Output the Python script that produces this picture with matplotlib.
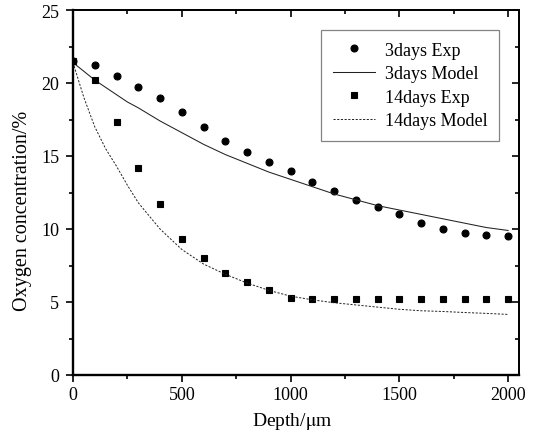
import numpy as np
import matplotlib
matplotlib.use("Agg")
import matplotlib.pyplot as plt
from matplotlib.ticker import MultipleLocator, NullFormatter

plt.rcParams['font.family'] = ['Liberation Serif', 'DejaVu Serif']
plt.rcParams['mathtext.fontset'] = 'stix'

# Measured points (every 100 um)
depth_exp = [0, 100, 200, 300, 400, 500, 600, 700, 800, 900, 1000,
             1100, 1200, 1300, 1400, 1500, 1600, 1700, 1800, 1900, 2000]
exp_3days = [21.5, 21.2, 20.5, 19.7, 19.0, 18.0, 17.0, 16.0, 15.3, 14.6, 14.0,
             13.2, 12.6, 12.0, 11.5, 11.0, 10.4, 10.0, 9.7, 9.6, 9.5]
exp_14days = [21.5, 20.2, 17.3, 14.2, 11.7, 9.3, 8.0, 7.0, 6.4, 5.8, 5.3,
              5.2, 5.2, 5.2, 5.2, 5.2, 5.2, 5.2, 5.2, 5.2, 5.2]

# Model curves
depth_model = [0, 50, 100, 150, 200, 250, 300, 400, 500, 600, 700, 800, 900, 1000,
               1100, 1200, 1300, 1400, 1500, 1600, 1700, 1800, 1900, 2000]
model_3days = [21.4, 20.8, 20.2, 19.7, 19.2, 18.7, 18.3, 17.4, 16.6, 15.8, 15.1, 14.5, 13.9, 13.4,
               12.9, 12.4, 12.0, 11.6, 11.3, 11.0, 10.7, 10.4, 10.1, 9.9]
model_14days = [21.4, 19.0, 17.0, 15.5, 14.3, 13.0, 11.8, 10.0, 8.6, 7.6, 6.9, 6.3, 5.8, 5.4,
                5.15, 4.95, 4.8, 4.65, 4.5, 4.4, 4.35, 4.28, 4.22, 4.15]

fig = plt.figure(figsize=(5.45, 4.35), dpi=100)
# axes box in pixels: left 73, right 519, top 11, bottom 376
ax = fig.add_axes([73 / 545, 59 / 435, 446 / 545, 365 / 435])

ax.plot(depth_exp, exp_3days, 'o', color='black', markersize=5.0, mew=0.8, label='3days Exp')
ax.plot(depth_model, model_3days, '-', color='#222222', linewidth=0.75, label='3days Model')
ax.plot(depth_exp, exp_14days, 's', color='black', markersize=4.8, mew=0.8, label='14days Exp')
ax.plot(depth_model, model_14days, '--', color='#222222', linewidth=0.7, dashes=(2.2, 1.6),
        label='14days Model')

ax.set_xlim(0, 2050)
ax.set_ylim(0, 25)
ax.xaxis.set_major_locator(MultipleLocator(500))
ax.xaxis.set_minor_locator(MultipleLocator(250))
ax.yaxis.set_major_locator(MultipleLocator(5))
ax.yaxis.set_minor_locator(MultipleLocator(2.5))
ax.tick_params(which='both', direction='out', labelsize=13)
ax.tick_params(which='major', length=5, width=1.2)
ax.tick_params(which='minor', length=3, width=1.2)
ax.tick_params(axis='x', pad=3)
ax.tick_params(axis='y', pad=5)
ax.spines['left'].set_linewidth(1.7)
ax.spines['bottom'].set_linewidth(1.7)
ax.spines['right'].set_linewidth(1.3)
ax.spines['top'].set_linewidth(1.3)

# inward ticks on top and right
top = ax.secondary_xaxis('top')
top.xaxis.set_major_locator(MultipleLocator(500))
top.xaxis.set_minor_locator(MultipleLocator(250))
top.xaxis.set_major_formatter(NullFormatter())
top.tick_params(which='both', direction='in', width=1.2)
top.tick_params(which='major', length=5)
top.tick_params(which='minor', length=3)
top.spines['top'].set_linewidth(1.3)

right = ax.secondary_yaxis('right')
right.yaxis.set_major_locator(MultipleLocator(5))
right.yaxis.set_minor_locator(MultipleLocator(2.5))
right.yaxis.set_major_formatter(NullFormatter())
right.tick_params(which='both', direction='in', width=1.2)
right.tick_params(which='major', length=5)
right.tick_params(which='minor', length=3)
right.spines['right'].set_linewidth(1.3)

ax.set_xlabel('Depth/$\\mathrm{\\mu}$m', fontsize=14)
ax.xaxis.set_label_coords(0.491, -0.096)
ax.set_ylabel('Oxygen concentration/%', fontsize=14.5)
ax.yaxis.set_label_coords(-0.092, 0.453)

leg = ax.legend(loc='upper right', bbox_to_anchor=(0.955, 0.945), borderaxespad=0,
                fontsize=13, frameon=True, fancybox=False, edgecolor='#666666',
                handlelength=2.3, labelspacing=0.36, borderpad=0.65, handletextpad=0.55)
leg.get_frame().set_linewidth(0.9)

fig.savefig('out.png', dpi=100)
